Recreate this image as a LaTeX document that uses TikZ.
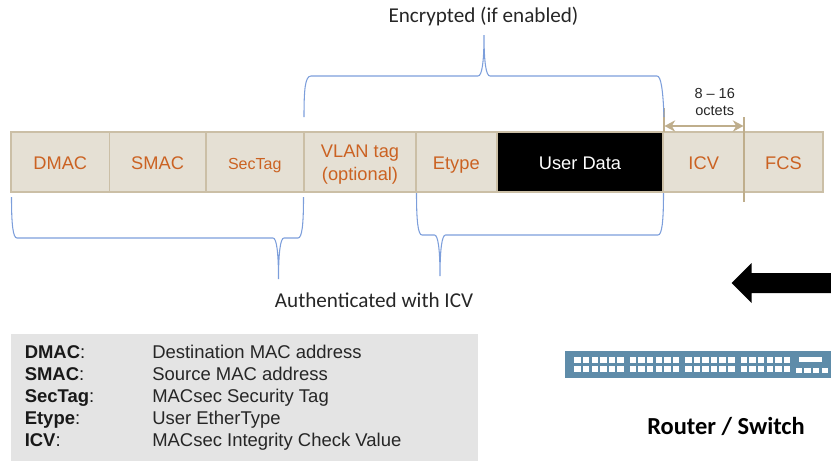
\documentclass[tikz,border=0pt]{standalone}
\usepackage{fontspec}
\setmainfont{Liberation Sans}
\newfontfamily\calfont{Carlito}
\usetikzlibrary{arrows.meta}
\definecolor{cellfill}{HTML}{E5E0D4}
\definecolor{celledge}{HTML}{CBBFA6}
\definecolor{celltext}{HTML}{CB6222}
\definecolor{bracecol}{HTML}{7C9EDB}
\definecolor{tancol}{HTML}{BFAE8C}
\definecolor{legendbg}{HTML}{E4E4E4}
\definecolor{swblue}{HTML}{5F8CA9}
\tikzset{
 cell/.style={draw=celledge,fill=cellfill,line width=1.4pt,inner sep=0pt,outer sep=0pt,
   minimum height=45.2pt,text=celltext,font=\fontsize{13.7}{16}\selectfont,
   text height=11pt,text depth=0pt,anchor=center},
 celllabel/.style={inner sep=0pt,anchor=base,text=celltext,font=\fontsize{13.7}{16}\selectfont},
 bracket/.style={draw=bracecol,line width=0.8pt},
 tick/.style={draw=tancol,line width=0.9pt},
 caption/.style={inner sep=0pt,font=\calfont\fontsize{15.85}{19}\selectfont,text=black!85,anchor=base},
 legkey/.style={inner sep=0pt,anchor=base west,font=\bfseries\fontsize{13.85}{16}\selectfont,text=black!90},
 legval/.style={inner sep=0pt,anchor=base west,font=\fontsize{13.85}{16}\selectfont,text=black!85},
 port/.style={fill=white,draw=none},
}
\newcommand{\cellat}[4]{\node[cell,minimum width=#3*0.75pt,#4] (#1) at (#2,162.2)}
\begin{document}
\begin{tikzpicture}[x=0.75pt,y=-0.75pt]
\useasboundingbox (0,0) rectangle (831,461);
% cells
\cellat{dmac}{60.25}{98.5}{}{DMAC};
\cellat{smac}{157.6}{96.2}{}{SMAC};
\cellat{sectag}{254.7}{98}{font=\fontsize{12}{14}\selectfont}{SecTag};
\cellat{vlan}{360}{112}{}{};
\node[celllabel] (vlanA) at (360,157) {VLAN tag};
\node[celllabel] (vlanB) at (360,180) {(optional)};
\cellat{etype}{456.3}{80.7}{}{Etype};
\cellat{user}{580}{166.6}{fill=black,text=white,draw=celledge}{User Data};
\cellat{icv}{703.7}{80.7}{}{ICV};
\cellat{fcs}{783.5}{79}{}{FCS};
% ICV width markers
\coordinate (ml) at (664,108);
\coordinate (mlb) at (664,132);
\coordinate (mr) at (744,117);
\coordinate (mrb) at (744,202);
\draw[tick] (ml) -- (mlb);
\draw[tick] (mr) -- (mrb);
\coordinate (al) at (664.5,126);
\coordinate (ar) at (743.5,126);
\draw[draw=tancol,line width=1.1pt,{Stealth[inset=2.5pt,length=8pt,width=8.5pt]}-{Stealth[inset=2.5pt,length=8pt,width=8.5pt]}] (al) -- (ar);
\node[inner sep=0pt,anchor=base,font=\fontsize{10.9}{13}\selectfont,text=black!85] (len1) at (714.7,98) {8 – 16};
\node[inner sep=0pt,anchor=base,font=\fontsize{10.9}{13}\selectfont,text=black!85] (len2) at (714.7,115.3) {octets};
% brackets
\coordinate (encL) at (304,117);
\coordinate (encT) at (484,35);
\coordinate (encR) at (664,117);
\coordinate (auaL) at (11.5,197);
\coordinate (auaT) at (278.5,279);
\coordinate (auaR) at (303.5,197);
\coordinate (aubL) at (416.5,193);
\coordinate (aubT) at (440,276);
\coordinate (aubR) at (663.5,193);
\draw[bracket] (encL) .. controls (304,90) and (305,76) .. (311,76) -- (478,76)
  .. controls (482,76) and (484,62) .. (encT)
  .. controls (484,62) and (486,76) .. (490,76) -- (657,76)
  .. controls (661,76) and (663,90) .. (encR);
\draw[bracket] (auaL) .. controls (11.5,225) and (13,238) .. (17,238) -- (273,238)
  .. controls (276.5,238) and (278.5,252) .. (auaT)
  .. controls (278.5,252) and (280.5,238) .. (284,238) -- (298,238)
  .. controls (302,238) and (303.5,225) .. (auaR);
\draw[bracket] (aubL) .. controls (416.5,221) and (418,235) .. (422,235) -- (434.5,235)
  .. controls (438,235) and (440,249) .. (aubT)
  .. controls (440,249) and (442,235) .. (445.5,235) -- (658,235)
  .. controls (662,235) and (663.5,221) .. (aubR);
\node[caption] (enc) at (483.5,22.4) {Encrypted (if enabled)};
\node[caption] (aut) at (374,307.7) {Authenticated with ICV};
% big arrow
\fill[black] (731.7,283) -- (751.7,263) -- (751.7,273) -- (831,273) -- (831,293) -- (751.7,293) -- (751.7,303) -- cycle;
% switch
\fill[swblue] (565.3,350.7) rectangle (831,378.3);
\foreach \gx in {574.3,629.7,685,740.7}{
  \foreach \i in {0,...,5}{
    \fill[port] ({\gx+8.6*\i},356.7) rectangle ++(6.5,6.6);
    \fill[port] ({\gx+8.6*\i},365.5) rectangle ++(6.5,6.6);
  }
}
\fill[port] (799,357) rectangle (822.3,362);
\foreach \i in {0,...,3}{
  \fill[port] ({795.7+8.6*\i},367.5) rectangle ++(6.2,5.5);
}
\node[inner sep=0pt,anchor=base,font=\calfont\bfseries\fontsize{18.35}{22}\selectfont,text=black] (rs) at (726,434.7) {Router / Switch};
% legend
\node[fill=legendbg,inner sep=0pt,outer sep=0pt,minimum width=350.25pt,minimum height=95.25pt] (legend) at (244.5,397.5) {};
\foreach \lk/\lv/\ly in {DMAC/Destination MAC address/358.6,SMAC/Source MAC address/380.6,SecTag/MACsec Security Tag/402.6,Etype/User EtherType/424.6,ICV/MACsec Integrity Check Value/446.6}{
  \node[legkey] (k\lk) at (24.5,\ly) {\lk\textmd{:}};
  \node[legval] (v\lk) at (152,\ly) {\lv};
}
\end{tikzpicture}
\end{document}
